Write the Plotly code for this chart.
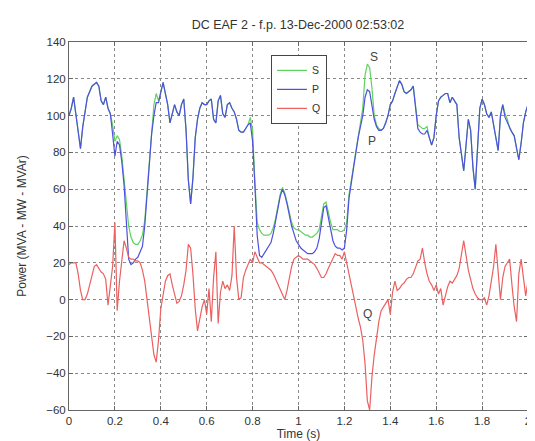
import numpy as np
import plotly.graph_objects as go

# sampling of the time axis (s)
t_start, t_end, n_samples = 0.0, 2.0, 201
time_s = np.linspace(t_start, t_end, n_samples)

P_MW = [100, 104, 110, 100, 90, 82, 94, 103, 110, 113,
        116, 117, 118, 116, 108, 106, 110, 104, 101, 90,
        78, 86, 84, 75, 62, 42, 22, 19, 20, 22,
        23, 26, 29, 40, 58, 76, 90, 100, 107, 107,
        113, 118, 112, 106, 96, 102, 106, 102, 100, 106,
        109, 92, 65, 52, 66, 88, 98, 104, 107, 106,
        106, 108, 109, 98, 96, 108, 111, 101, 99, 106,
        107, 104, 102, 98, 92, 91, 91, 93, 95, 96,
        86, 62, 35, 24, 23, 25, 27, 29, 31, 36,
        42, 50, 56, 60, 57, 52, 46, 40, 36, 32,
        30, 28, 27, 26, 25, 25, 25, 26, 28, 33,
        42, 50, 51, 45, 38, 32, 29, 28, 28, 27,
        28, 38, 55, 64, 72, 80, 88, 95, 100, 110,
        114, 113, 106, 98, 94, 92, 92, 93, 96, 100,
        106, 108, 112, 116, 119, 117, 113, 112, 113, 114,
        116, 104, 93, 91, 90, 90, 92, 88, 84, 88,
        100, 108, 110, 111, 112, 112, 107, 110, 108, 106,
        88, 78, 70, 84, 98, 92, 72, 60, 80, 104,
        109, 106, 101, 99, 102, 95, 88, 81, 100, 106,
        99, 96, 93, 91, 89, 82, 76, 85, 96, 102,
        106]

S_MVA = [100, 104, 110, 100, 90, 82, 94, 103, 110, 113,
         116, 117, 118, 116, 108, 106, 110, 104, 101, 95,
         86, 89, 87, 78, 66, 50, 40, 34, 31, 30,
         30, 32, 35, 43, 58, 76, 92, 106, 112, 108,
         113, 118, 112, 106, 96, 102, 106, 102, 100, 106,
         109, 92, 65, 52, 66, 88, 98, 104, 107, 106,
         106, 108, 109, 98, 96, 108, 111, 101, 99, 106,
         107, 104, 102, 98, 92, 91, 91, 93, 95, 99,
         92, 64, 42, 38, 36, 35, 35, 35, 36, 39,
         44, 51, 57, 61, 58, 53, 47, 42, 39, 38,
         38, 37, 36, 35, 35, 34, 34, 35, 36, 38,
         44, 52, 53, 47, 42, 38, 38, 38, 37, 37,
         38, 42, 57, 65, 72, 80, 88, 96, 104, 122,
         128, 126, 115, 100, 95, 93, 92, 93, 96, 100,
         106, 108, 112, 116, 119, 117, 113, 112, 113, 114,
         116, 104, 95, 94, 93, 93, 94, 88, 84, 88,
         100, 108, 110, 111, 112, 112, 107, 110, 108, 106,
         88, 78, 70, 84, 98, 92, 72, 60, 80, 104,
         109, 106, 101, 99, 102, 95, 88, 81, 100, 106,
         101, 98, 93, 91, 89, 82, 76, 85, 96, 102,
         106]

Q_MVAr = [19, 20, 20, 20, 14, 5, 0, 0, 3, 8,
          13, 18, 19, 17, 15, 14, 11, -3, 8, 18,
          42, -6, 10, 20, 32, 28, 23, 22, 22, 21,
          21, 20, 16, 10, 0, -8, -18, -30, -34, -22,
          -5, 4, 10, 13, 14, 8, 3, -2, -1, 2,
          8, 16, 30, 28, 14, -5, -17, -10, -4, 0,
          -8, 6, -12, 12, 26, -13, 4, 10, 6, 8,
          5, 13, 40, 12, 0, 1, 12, 16, 19, 22,
          20, 26, 23, 20, 20, 19, 18, 17, 16, 14,
          11, 8, 5, 2, 0, 5, 12, 18, 22, 23,
          24, 23, 22, 22, 22, 21, 20, 19, 17, 14,
          12, 12, 14, 17, 20, 23, 25, 24, 24, 22,
          26, 20, 13, 8, 2, -5, -10, -15, -22, -35,
          -55, -60, -42, -30, -20, -12, -6, -4, -2, 0,
          -8, 4, 10, 5, 6, 8, 9, 11, 12, 12,
          14, 17, 21, 22, 28, 20, 14, 10, 8, 5,
          8, 3, 6, -3, 2, 7, 10, 9, 11, 13,
          17, 24, 32, 24, 16, 11, 6, 3, 1, 0,
          0, 1, -3, 2, 10, 18, 30, 16, 0, 12,
          18, 20, 22, 8, -4, -12, 14, 22, 12, 2,
          10]

# in-plot text labels (name, time, value)
label_names = ["S", "P", "Q"]
label_t = [1.33, 1.32, 1.30]
label_v = [132, 86, -8]

title_text = "DC EAF 2 - f.p. 13-Dec-2000 02:53:02"
x_title = "Time (s)"
y_title = "Power (MVA - MW - MVAr)"

FONT = "Liberation Sans, Arial, sans-serif"
TXT = "#333333"

fig = go.Figure()
fig.add_trace(go.Scatter(x=time_s, y=S_MVA, mode="lines", name="S",
                         line=dict(color="#5fd35f", width=1.2)))
fig.add_trace(go.Scatter(x=time_s, y=P_MW, mode="lines", name="P",
                         line=dict(color="#5050e0", width=1.2)))
fig.add_trace(go.Scatter(x=time_s, y=Q_MVAr, mode="lines", name="Q",
                         line=dict(color="#ec6060", width=1.2)))

for nm, tx, vy in zip(label_names, label_t, label_v):
    fig.add_annotation(x=tx, y=vy, text=nm, showarrow=False,
                       font=dict(family=FONT, size=12, color="#444"))

axis_common = dict(
    showline=True, linecolor="#666", linewidth=1, mirror="ticks",
    ticks="inside", ticklen=4, tickcolor="#666",
    showgrid=True, gridcolor="#8a8a8a", griddash="dot", gridwidth=1,
    zeroline=False,
    tickfont=dict(family=FONT, size=11.5, color=TXT),
)

fig.update_layout(
    width=535, height=441,
    margin=dict(l=61, r=15, t=34, b=37),
    paper_bgcolor="white", plot_bgcolor="white",
    title=dict(text=title_text, x=0.542, xanchor="center", y=0.962, yanchor="middle",
               font=dict(family=FONT, size=12.5, color=TXT)),
    xaxis=dict(range=[0, 2], dtick=0.2, tick0=0,
               title=dict(text=x_title, standoff=2,
                          font=dict(family=FONT, size=12, color=TXT)),
               **axis_common),
    yaxis=dict(range=[-60, 140], dtick=20, tick0=0,
               title=dict(text=y_title, standoff=16,
                          font=dict(family=FONT, size=12, color=TXT)),
               **axis_common),
    showlegend=True,
    legend=dict(x=0.44, y=0.965, xanchor="left", yanchor="top",
                bgcolor="white", bordercolor="#444", borderwidth=1,
                font=dict(family=FONT, size=10.5, color=TXT),
                tracegroupgap=0, itemwidth=30),
)

fig.write_html("out.html")
